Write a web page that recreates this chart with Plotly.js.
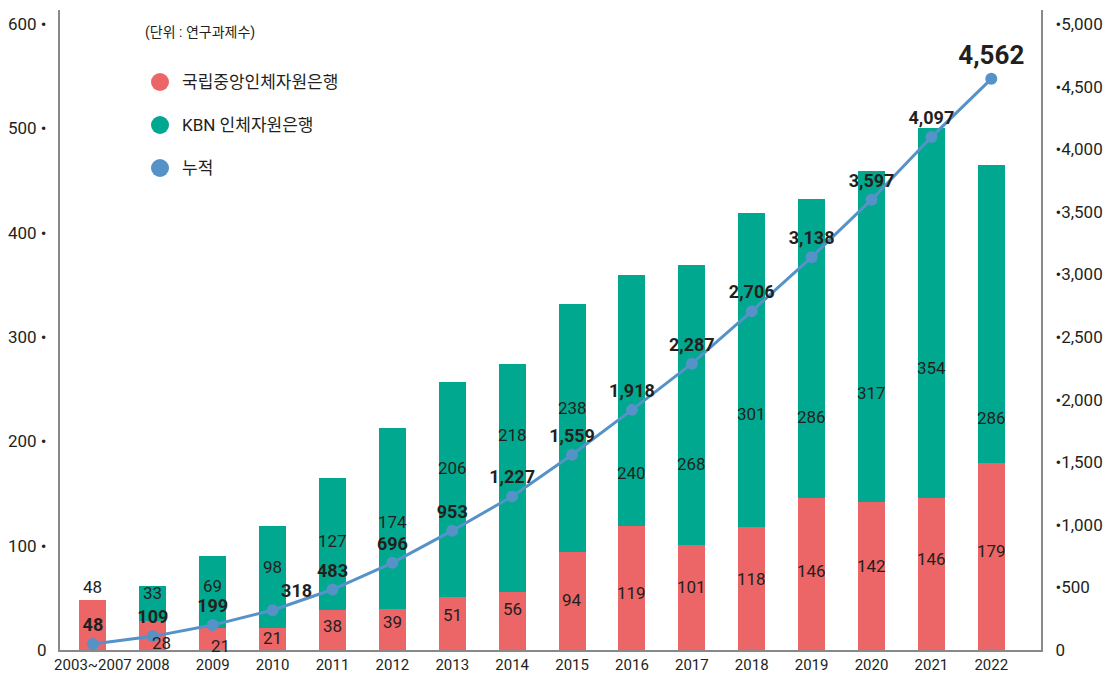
<!DOCTYPE html>
<html>
<head>
<meta charset="utf-8">
<script src="https://cdn.plot.ly/plotly-3.0.1.min.js"></script>
<style>html,body{margin:0;padding:0;background:#fff;}#chart{width:1120px;height:675px;}</style>
</head>
<body>
<div id="chart"></div>
<script>
// ---------- data ----------
const categories = ['2003~2007','2008','2009','2010','2011','2012','2013','2014','2015','2016','2017','2018','2019','2020','2021','2022'];
const nationalBank = [48,28,21,21,38,39,51,56,94,119,101,118,146,142,146,179];
const kbnBank = [0,33,69,98,127,174,206,218,238,240,268,301,286,317,354,286];
const cumulative = [48,109,199,318,483,696,953,1227,1559,1918,2287,2706,3138,3597,4097,4562];
const leftTicks = [0,100,200,300,400,500,600];
const leftTickLabels = ['0','100 •','200 •','300 •','400 •','500 •','600 •'];
const rightTicks = [0,500,1000,1500,2000,2500,3000,3500,4000,4500,5000];
const rightTickLabels = ['0','•500','•1,000','•1,500','•2,000','•2,500','•3,000','•3,500','•4,000','•4,500','•5,000'];
const seriesNames = ['국립중앙인체자원은행','KBN 인체자원은행','누적'];
const unitNote = '(단위 : 연구과제수)';

// ---------- style ----------
const RED = '#EC6667', GREEN = '#00A88F', BLUE = '#5592C8', INK = '#231F20', AXIS = '#8A8888';
const FONT = 'Roboto, "Noto Sans CJK KR", sans-serif';
const fmt = v => v.toLocaleString('en-US');

// where inside each segment its value label sits (fraction of segment height, from its bottom)
const redLabelFrac = [1, 0.25, 0.18, 0.57, 0.6, 0.7, 0.65, 0.7, 0.51, 0.46, 0.6, 0.58, 0.52, 0.57, 0.6, 0.53];
const redLabelShift = [0, 9, 8, 0, 0, 0, 0, 0, 0, 0, 0, 0, 0, 0, 0, 0];
const kbnLabelFrac = [0.5, 0.8, 0.59, 0.6, 0.52, 0.48, 0.6, 0.69, 0.58, 0.21, 0.29, 0.36, 0.27, 0.33, 0.35, 0.15];
const lineLabelPos = categories.map((c, i) => i === 3 ? 'top right' : 'top center');

const traces = [
  {type: 'bar', x: categories, y: nationalBank, name: seriesNames[0], showlegend: false,
   marker: {color: RED, line: {width: 0}}, width: 0.45, hoverinfo: 'skip'},
  {type: 'bar', x: categories, y: kbnBank, name: seriesNames[1], showlegend: false,
   marker: {color: GREEN, line: {width: 0}}, width: 0.45, hoverinfo: 'skip'},
  {type: 'scatter', mode: 'lines+markers+text', x: categories, y: cumulative, yaxis: 'y2',
   name: seriesNames[2], showlegend: false,
   line: {color: BLUE, width: 3}, marker: {color: BLUE, size: 12},
   text: cumulative.map(fmt), textposition: lineLabelPos,
   textfont: {family: FONT, size: cumulative.map((v, i) => i === cumulative.length - 1 ? 26 : 18), color: INK, weight: 'bold'},
   cliponaxis: false, hoverinfo: 'skip'}
];

// segment value labels (x given as category index so numeric-looking names are not misread)
const annotations = [];
categories.forEach((c, i) => {
  const r = nationalBank[i], g = kbnBank[i];
  annotations.push({
    xref: 'x', yref: 'y', x: i, y: i === 0 ? r : r * redLabelFrac[i],
    yanchor: i === 0 ? 'bottom' : 'middle', xshift: redLabelShift[i], yshift: i === 0 ? 1 : 0,
    text: String(r), showarrow: false, font: {family: FONT, size: 17, color: INK}
  });
  if (g) {
    annotations.push({
      xref: 'x', yref: 'y', x: i, y: r + g * kbnLabelFrac[i], yanchor: 'middle',
      text: String(g), showarrow: false, font: {family: FONT, size: 17, color: INK}
    });
  }
});

// custom legend (circle markers + labels) and unit note
const plotL = 60, plotR = 1041, plotT = 10, plotB = 650;
const px = x => (x - plotL) / (plotR - plotL);
const py = y => (plotB - y) / (plotB - plotT);
const legendColors = [RED, GREEN, BLUE];
const legendRowsY = [82, 125, 168];
const shapes = legendColors.map((col, i) => ({
  type: 'circle', xref: 'paper', yref: 'paper', xsizemode: 'pixel', ysizemode: 'pixel',
  xanchor: px(160), yanchor: py(legendRowsY[i]), x0: -9, x1: 9, y0: -9, y1: 9,
  fillcolor: col, line: {width: 0}
}));
seriesNames.forEach((n, i) => annotations.push({
  xref: 'paper', yref: 'paper', x: px(180), y: py(legendRowsY[i]), xanchor: 'left', yanchor: 'middle',
  text: n, showarrow: false, font: {family: FONT, size: 17, color: INK}
}));
annotations.push({xref: 'paper', yref: 'paper', x: px(143), y: py(33), xanchor: 'left', yanchor: 'middle',
  text: unitNote, showarrow: false, font: {family: FONT, size: 14, color: INK}});

const layout = {
  width: 1120, height: 675,
  margin: {l: plotL, r: 1120 - plotR, t: plotT, b: 675 - plotB},
  paper_bgcolor: '#fff', plot_bgcolor: '#fff',
  font: {family: FONT, color: INK},
  barmode: 'stack', showlegend: false,
  xaxis: {type: 'category', range: [-0.55, 15.83], showgrid: false, zeroline: false,
          showline: true, linecolor: AXIS, linewidth: 2, ticks: '',
          tickfont: {family: FONT, size: 15, color: INK}},
  yaxis: {range: [0, 613.4], tickvals: leftTicks, ticktext: leftTickLabels,
          showgrid: false, zeroline: false, showline: true, linecolor: AXIS, linewidth: 2,
          ticks: '', ticklabelstandoff: 8, tickfont: {family: FONT, size: 17, color: INK}},
  yaxis2: {overlaying: 'y', side: 'right', range: [0, 5112], tickvals: rightTicks, ticktext: rightTickLabels,
           showgrid: false, zeroline: false, showline: true, linecolor: AXIS, linewidth: 2,
           ticks: '', ticklabelstandoff: 9, tickfont: {family: FONT, size: 17, color: INK}},
  shapes: shapes,
  annotations: annotations
};

Plotly.newPlot('chart', traces, layout, {staticPlot: true, displayModeBar: false});
</script>
</body>
</html>
